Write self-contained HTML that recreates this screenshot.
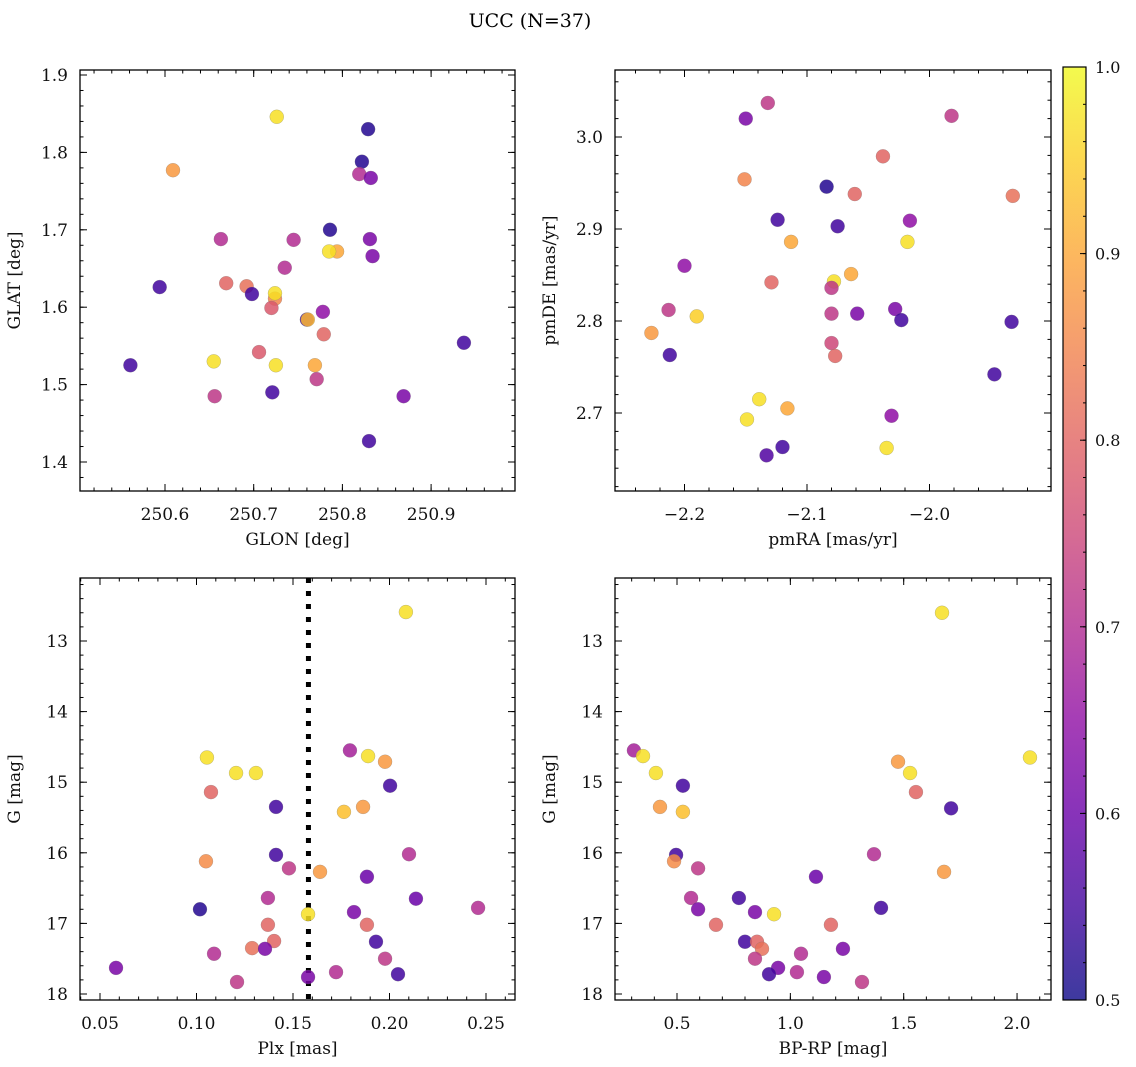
<!DOCTYPE html>
<html><head><meta charset="utf-8"><style>
html,body{margin:0;padding:0;background:#fff;}
svg{display:block;font-family:"DejaVu Serif","Liberation Serif",serif;}
</style></head><body>
<svg id="fig" width="1136" height="1067" viewBox="0 0 1136 1067" xmlns="http://www.w3.org/2000/svg">
<defs>
<linearGradient id="plasma" x1="0" y1="1" x2="0" y2="0">
<stop offset="0" stop-color="#0d0887"/><stop offset="0.1" stop-color="#41049d"/><stop offset="0.2" stop-color="#6a00a8"/><stop offset="0.3" stop-color="#8f0da4"/><stop offset="0.4" stop-color="#b12a90"/><stop offset="0.5" stop-color="#cc4778"/><stop offset="0.6" stop-color="#e16462"/><stop offset="0.7" stop-color="#f2844b"/><stop offset="0.8" stop-color="#fca636"/><stop offset="0.9" stop-color="#fcce25"/><stop offset="1" stop-color="#f0f921"/>
</linearGradient>
</defs>
<text x="530" y="27" font-size="19" text-anchor="middle">UCC (N=37)</text>
</svg>
<script>
// Panel 1: GLON vs GLAT
const p1X = [250.726,250.829,250.609,250.822,250.819,250.832,250.786,250.663,250.745,250.831,250.794,250.785,250.834,250.735,250.594,250.669,250.692,250.698,250.724,250.724,250.720,250.778,250.760,250.761,250.779,250.937,250.706,250.655,250.561,250.725,250.769,250.771,250.656,250.721,250.869,250.830];
const p1Y = [1.846,1.830,1.777,1.788,1.772,1.767,1.700,1.688,1.687,1.688,1.672,1.672,1.666,1.651,1.626,1.631,1.627,1.617,1.611,1.618,1.599,1.594,1.584,1.584,1.565,1.554,1.542,1.530,1.525,1.525,1.525,1.507,1.485,1.490,1.485,1.427];
const p1C = [0.97,0.52,0.88,0.52,0.70,0.62,0.52,0.70,0.70,0.62,0.90,0.97,0.62,0.70,0.55,0.80,0.82,0.55,0.85,0.97,0.78,0.65,0.55,0.92,0.80,0.55,0.78,0.97,0.55,0.97,0.90,0.72,0.72,0.55,0.62,0.55];
// Panel 2: pmRA vs pmDE
const p2X = [-2.132,-2.150,-1.982,-2.038,-2.151,-2.084,-2.061,-1.932,-2.124,-2.075,-2.016,-2.113,-2.018,-2.200,-2.064,-2.078,-2.129,-2.080,-2.213,-2.028,-2.190,-2.080,-2.059,-2.023,-1.933,-2.227,-2.080,-2.077,-2.212,-1.947,-2.139,-2.116,-2.149,-2.031,-2.035,-2.120,-2.133];
const p2Y = [3.037,3.020,3.023,2.979,2.954,2.946,2.938,2.936,2.910,2.903,2.909,2.886,2.886,2.860,2.851,2.843,2.842,2.836,2.812,2.813,2.805,2.808,2.808,2.801,2.799,2.787,2.776,2.762,2.763,2.742,2.715,2.705,2.693,2.697,2.662,2.663,2.654];
const p2C = [0.72,0.62,0.72,0.80,0.85,0.52,0.80,0.82,0.55,0.55,0.65,0.90,0.97,0.65,0.90,0.97,0.80,0.72,0.72,0.62,0.95,0.72,0.62,0.55,0.55,0.88,0.75,0.80,0.55,0.55,0.97,0.90,0.97,0.65,0.97,0.55,0.57];
// Panel 3: Plx vs G
const p3X = [0.2085,0.1054,0.1795,0.1889,0.1977,0.1205,0.1308,0.2003,0.1075,0.1412,0.1863,0.1764,0.1412,0.2101,0.1479,0.1049,0.1640,0.1883,0.1370,0.2137,0.1018,0.2459,0.1578,0.1816,0.1370,0.1883,0.1930,0.1402,0.1288,0.1355,0.1091,0.1977,0.1723,0.2044,0.0583,0.1578,0.1210];
const p3Y = [12.59,14.65,14.55,14.63,14.71,14.87,14.87,15.05,15.14,15.35,15.35,15.42,16.03,16.02,16.22,16.12,16.27,16.34,16.64,16.65,16.80,16.78,16.87,16.84,17.02,17.02,17.26,17.25,17.35,17.36,17.43,17.50,17.69,17.72,17.63,17.76,17.83];
const p3C = [0.97,0.97,0.68,0.97,0.88,0.97,0.97,0.55,0.80,0.55,0.88,0.93,0.55,0.70,0.72,0.86,0.88,0.60,0.70,0.60,0.52,0.70,0.97,0.62,0.80,0.80,0.55,0.80,0.82,0.62,0.70,0.72,0.70,0.55,0.62,0.62,0.72];
const plxLine = [0.158];
// Panel 4: BP-RP vs G
const p4X = [0.310,0.350,2.057,0.407,1.475,1.528,1.554,0.425,0.526,0.526,1.709,0.496,0.487,0.593,1.369,1.113,1.678,0.562,0.593,0.773,1.400,0.844,0.928,0.672,1.179,0.800,0.853,0.875,1.047,1.232,0.844,0.946,1.029,0.906,1.148,1.316,1.669];
const p4Y = [14.55,14.63,14.65,14.87,14.71,14.87,15.14,15.35,15.05,15.42,15.37,16.03,16.12,16.22,16.02,16.34,16.27,16.64,16.80,16.64,16.78,16.84,16.87,17.02,17.02,17.26,17.26,17.36,17.43,17.36,17.50,17.63,17.69,17.72,17.76,17.83,12.60];
const p4C = [0.68,0.97,0.97,0.97,0.88,0.97,0.80,0.88,0.55,0.93,0.55,0.55,0.86,0.72,0.70,0.60,0.88,0.70,0.62,0.55,0.55,0.62,0.97,0.80,0.80,0.55,0.80,0.82,0.70,0.62,0.72,0.62,0.70,0.55,0.62,0.72,0.97];
// Colorbar
const cbTicks = [0.5,0.6,0.7,0.8,0.9,1.0];
const cbLabels = ["0.5","0.6","0.7","0.8","0.9","1.0"];

const NS = "http://www.w3.org/2000/svg";
const fig = document.getElementById('fig');
function mk(tag, attrs, parent){const e=document.createElementNS(NS,tag);for(const k in attrs)e.setAttribute(k,attrs[k]);(parent||fig).appendChild(e);return e;}
const stops=[[0,[13,8,135]],[0.1,[65,4,157]],[0.2,[106,0,168]],[0.3,[143,13,164]],[0.4,[177,42,144]],[0.5,[204,71,120]],[0.6,[225,100,98]],[0.7,[242,132,75]],[0.8,[252,166,54]],[0.9,[252,206,37]],[1,[240,249,33]]];
function plasma(v){let t=(v-0.5)/0.5;t=Math.max(0,Math.min(1,t));for(let i=0;i<stops.length-1;i++){const a=stops[i],b=stops[i+1];if(t<=b[0]){const f=(t-a[0])/(b[0]-a[0]);const c=a[1].map((x,j)=>Math.round(x+(b[1][j]-x)*f));return `rgb(${c[0]},${c[1]},${c[2]})`;}}return 'rgb(240,249,33)';}

function panel(o){
  const g=mk('g',{});
  
  
  const sx=v=>o.x0+(v-o.xmin)/(o.xmax-o.xmin)*(o.x1-o.x0);
  const sy=o.yinv?(v=>o.y0+(v-o.ymin)/(o.ymax-o.ymin)*(o.y1-o.y0)):(v=>o.y1-(v-o.ymin)/(o.ymax-o.ymin)*(o.y1-o.y0));
  const tg=mk('g',{stroke:'#000','stroke-width':1},g);
  function ticks(min,max,step,len,axis,labels,dec){
    const s=Math.ceil(min/step-1e-6);
    for(let i=s;i*step<=max+1e-9;i++){
      const v=i*step;
      if(axis==='x'){const p=sx(v);mk('line',{x1:p,x2:p,y1:o.y1,y2:o.y1-len},tg);mk('line',{x1:p,x2:p,y1:o.y0,y2:o.y0+len},tg);
        if(labels){const t=mk('text',{x:p,y:o.y1+29,'font-size':17,'text-anchor':'middle',stroke:'none',fill:'#111'},g);t.textContent=v.toFixed(dec).replace('-','\u2212');}}
      else{const p=sy(v);mk('line',{y1:p,y2:p,x1:o.x0,x2:o.x0+len},tg);mk('line',{y1:p,y2:p,x1:o.x1,x2:o.x1-len},tg);
        if(labels){const t=mk('text',{x:o.x0-12,y:p+6,'font-size':17,'text-anchor':'end',stroke:'none',fill:'#111'},g);t.textContent=v.toFixed(dec);}}
    }
  }
  ticks(o.xmin,o.xmax,o.xmaj,7,'x',true,o.xdec);
  ticks(o.xmin,o.xmax,o.xmin_,3.5,'x',false);
  ticks(Math.min(o.ymin,o.ymax),Math.max(o.ymin,o.ymax),o.ymaj,7,'y',true,o.ydec);
  ticks(Math.min(o.ymin,o.ymax),Math.max(o.ymin,o.ymax),o.ymin_,3.5,'y',false);
  if(o.vline!==undefined){const p=sx(o.vline);const l=mk('line',{x1:p,x2:p,y1:o.y0,y2:o.y1,stroke:'#000','stroke-width':5,'stroke-dasharray':'5 8'},g);}
  for(let i=0;i<o.xs.length;i++){
    const c=mk('circle',{cx:sx(o.xs[i]),cy:sy(o.ys[i]),r:7,fill:plasma(o.cs[i]),'fill-opacity':0.85,stroke:'#777','stroke-width':0.4,'stroke-opacity':0.6},g);
    
    
  }
  const fr=mk('rect',{x:o.x0,y:o.y0,width:o.x1-o.x0,height:o.y1-o.y0,fill:'none',stroke:'#000','stroke-width':1.3},g);
  
  const xl=mk('text',{x:(o.x0+o.x1)/2,y:o.y1+54,'font-size':17,'text-anchor':'middle',fill:'#111'},g);xl.textContent=o.xlabel;
  
  const yx=o.x0-60,yy=(o.y0+o.y1)/2;
  const yl=mk('text',{x:yx,y:yy,'font-size':17,'text-anchor':'middle',fill:'#111',transform:`rotate(-90 ${yx} ${yy})`},g);yl.textContent=o.ylabel;
  
}
panel({name:'glon-glat-panel',x0:80,x1:515,y0:70,y1:491,xmin:250.6-85/887,xmax:250.6+350/887,ymin:1.4-29/774,ymax:1.4+392/774,xmaj:0.1,xmin_:0.02,ymaj:0.1,ymin_:0.02,xdec:1,ydec:1,xs:p1X,ys:p1Y,cs:p1C,xlabel:'GLON [deg]',ylabel:'GLAT [deg]'});
panel({name:'pm-panel',x0:615,x1:1051,y0:70,y1:491,xmin:-2.1-192/1225,xmax:-2.1+244/1225,ymin:3.0-354/920,ymax:3.0+67/920,xmaj:0.1,xmin_:0.02,ymaj:0.1,ymin_:0.02,xdec:1,ydec:1,xs:p2X,ys:p2Y,cs:p2C,xlabel:'pmRA [mas/yr]',ylabel:'pmDE [mas/yr]'});
panel({name:'plx-g-panel',x0:80,x1:515,y0:578,y1:1000,xmin:0.05-20/1930,xmax:0.05+415/1930,ymin:13-63/70.6,ymax:13+359/70.6,yinv:true,xmaj:0.05,xmin_:0.01,ymaj:1,ymin_:0.2,xdec:2,ydec:0,xs:p3X,ys:p3Y,cs:p3C,vline:plxLine[0],xlabel:'Plx [mas]',ylabel:'G [mag]'});
panel({name:'cmd-panel',x0:615,x1:1051,y0:578,y1:1000,xmin:0.5-62/226.7,xmax:0.5+374/226.7,ymin:13-63/70.6,ymax:13+359/70.6,yinv:true,xmaj:0.5,xmin_:0.1,ymaj:1,ymin_:0.2,xdec:1,ydec:0,xs:p4X,ys:p4Y,cs:p4C,xlabel:'BP-RP [mag]',ylabel:'G [mag]'});

const cb=mk('g',{});


const cbx0=1063,cbx1=1086,cby0=67,cby1=1000;
mk('rect',{x:cbx0,y:cby0,width:cbx1-cbx0,height:cby1-cby0,fill:'url(#plasma)','fill-opacity':0.8},cb);
const cyv=v=>cby1-(v-0.5)/0.5*(cby1-cby0);
for(let i=0;i<cbTicks.length;i++){
  const p=cyv(cbTicks[i]);
  mk('line',{x1:cbx1,x2:cbx1-6,y1:p,y2:p,stroke:'#000'},cb);
  const t=mk('text',{x:cbx1+9,y:p+6,'font-size':16,fill:'#111'},cb);t.textContent=cbLabels[i];
  
  
}
for(let k=0;k<=25;k++){const p=cyv(0.5+k*0.02);mk('line',{x1:cbx1,x2:cbx1-3,y1:p,y2:p,stroke:'#000'},cb);}
mk('rect',{x:cbx0,y:cby0,width:cbx1-cbx0,height:cby1-cby0,fill:'none',stroke:'#000','stroke-width':1.2},cb);
</script>
</body></html>
